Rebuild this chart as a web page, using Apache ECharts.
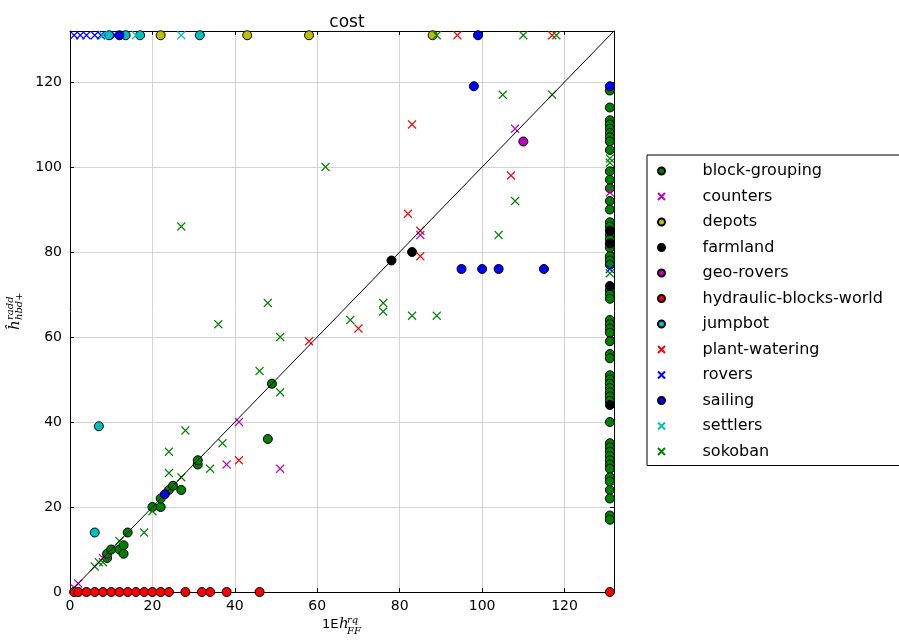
<!DOCTYPE html>
<html>
<head>
<meta charset="utf-8">
<script src="https://cdn.jsdelivr.net/npm/echarts@6/dist/echarts.min.js"></script>
<style>html,body{margin:0;padding:0;background:#fff;}#c{width:899px;height:642px;}</style>
</head>
<body>
<div id="c"></div>
<script>
// ---- data ----
const seriesNames = ['block-grouping','counters','depots','farmland','geo-rovers','hydraulic-blocks-world','jumpbot','plant-watering','rovers','sailing','settlers','sokoban'];
const xTicks = [0,20,40,60,80,100,120];
const yTicks = [0,20,40,60,80,100,120];
const axisMax = 132;
const diagonal = [[0,0],[132,132]];

const blockGrouping = [[9,8],[9,9],[10,10],[12,10],[13,9],[13,11],[14,14],[20,20],[22,20],[22,22],[24,24],[25,25],[27,24],[31,30],[31,31],[48,36],[49,49],
  [131,118],[131,114],[131,111],[131,110],[131,109],[131,108],[131,107],[131,106],[131,104],[131,99],[131,97],[131,95],[131,92],[131,90],[131,87],[131,86],[131,84],[131,83],[131,81],[131,79],[131,78],[131,77],[131,71],[131,70],[131,69],[131,64],[131,63],[131,62],[131,61],[131,59],[131,56],[131,55],[131,51],[131,50],[131,49],[131,48],[131,47],[131,46],[131,45],[131,40],[131,35],[131,34],[131,33],[131,32],[131,31],[131,30],[131,29],[131,27],[131,26],[131,24],[131,22],[131,18],[131,17]];
const counters = [[1,1],[2,2],[8,8],[38,30],[41,40],[51,29],[85,84],[108,109],[131,94]];
const depots = [[22,131],[43,131],[58,131],[88,131]];
const farmland = [[78,78],[83,80],[131,85],[131,82],[131,72],[131,44]];
const geoRovers = [[110,106]];
const hydraulic = [[1,0],[2,0],[4,0],[6,0],[8,0],[10,0],[12,0],[14,0],[16,0],[18,0],[20,0],[22,0],[24,0],[28,0],[32,0],[34,0],[38,0],[46,0],[131,0]];
const jumpbot = [[6,14],[7,39],[9.5,131],[13.5,131],[17,131],[31.5,131]];
const plantWatering = [[41,31],[58,59],[70,62],[82,89],[83,110],[85,85],[85,79],[107,98],[94,131],[117,131]];
const rovers = [[1,131],[2.5,131],[4,131],[6,131],[7.5,131],[11,131],[131,76]];
const sailing = [[23,23],[95,76],[100,76],[104,76],[115,76],[98,119],[12,131],[99,131],[131,119]];
const settlers = [[8,131],[16,131],[27,131]];
const sokoban = [[6,6],[7,7],[8,7],[12,12],[18,14],[20,19],[24,28],[24,33],[27,27],[28,38],[34,29],[37,35],[27,86],[36,63],[46,52],[48,68],[51,60],[51,47],[62,100],[68,64],[76,66],[76,68],[83,65],[89,65],[104,84],[108,92],[105,117],[117,117],[89,131],[110,131],[118,131],[131,101],[131,102],[131,75]];

const seriesData = [blockGrouping,counters,depots,farmland,geoRovers,hydraulic,jumpbot,plantWatering,rovers,sailing,settlers,sokoban];
const seriesColors = ['#008000','#bf00bf','#bfbf00','#000000','#bf00bf','#ff0000','#00bfbf','#ff0000','#0000ff','#0000ff','#00bfbf','#008000'];
const seriesMarker = ['o','x','o','o','o','o','o','x','x','o','x','x'];

// ---- chart ----
const CROSS = 'path://M0,0L10,10M10,0L0,10';
const chart = echarts.init(document.getElementById('c'));
const font = 'DejaVu Sans';

const series = seriesNames.map((n,i)=>{
  const isX = seriesMarker[i]==='x';
  return {
    name:n, type:'scatter', data:seriesData[i],
    symbol: isX ? CROSS : 'circle',
    symbolSize: isX ? 8 : 9,
    itemStyle: isX ? {color:seriesColors[i], borderColor:seriesColors[i], borderWidth:1.1, opacity:1}
                   : {color:seriesColors[i], borderColor:'#000', borderWidth:1, opacity:1},
    emphasis:{disabled:true},
    clip:false
  };
});
series.push({
  type:'line', data:diagonal, symbol:'none', silent:true,
  lineStyle:{color:'#000', width:1}, z:5
});

const axisCommon = {
  type:'value', min:0, max:axisMax, interval:20,
  axisLine:{show:true, onZero:false, lineStyle:{color:'#000', width:1}},
  axisTick:{show:true, inside:true, length:4, lineStyle:{color:'#000'}},
  splitLine:{show:true, lineStyle:{color:'#d3d3d3', width:1}},
  axisLabel:{color:'#000', fontFamily:font, fontSize:14, showMaxLabel:false}
};

chart.setOption({
  animation:false,
  backgroundColor:'#fff',
  title:{text:'cost', left:342, textAlign:'center', top:9, textStyle:{fontFamily:font, fontSize:17, fontWeight:'normal', color:'#000'}},
  grid:{left:70, right:285, top:31, bottom:50, containLabel:false},
  xAxis:[
    Object.assign({}, axisCommon, {position:'bottom', axisLabel:Object.assign({}, axisCommon.axisLabel, {margin:7})}),
    Object.assign({}, axisCommon, {position:'top', axisLabel:{show:false}, splitLine:{show:false}})
  ],
  yAxis:[
    Object.assign({}, axisCommon, {position:'left', axisLabel:Object.assign({}, axisCommon.axisLabel, {margin:8})}),
    Object.assign({}, axisCommon, {position:'right', axisLabel:{show:false}, splitLine:{show:false}})
  ],
  legend:{
    orient:'vertical', left:647, top:155,
    padding:[7,40,5,10],
    borderColor:'#000', borderWidth:1,
    itemWidth:30, itemHeight:7, itemGap:7.5,
    selectedMode:false,
    formatter: name => '{t|' + name + '}',
    textStyle:{fontFamily:font, fontSize:16, color:'#000', lineHeight:18,
      rich:{t:{fontFamily:font, fontSize:16, color:'#000', lineHeight:18, padding:[0,0,0,21]}}},
    data: seriesNames.map((n,i)=>({name:n, icon: seriesMarker[i]==='x' ? CROSS : 'circle'}))
  },
  series: series,
  graphic:[
    // x axis name: 1E h^{rq}_{FF}
    {type:'text', left:322, top:618, style:{text:'1E', font:'13px "DejaVu Sans"', fill:'#000'}},
    {type:'text', left:339, top:617, style:{text:'h', font:'italic 15px "DejaVu Serif"', fill:'#000'}},
    {type:'text', left:347, top:615, style:{text:'rq', font:'italic 10px "DejaVu Serif"', fill:'#000'}},
    {type:'text', left:347, top:626, style:{text:'FF', font:'italic 10px "DejaVu Serif"', fill:'#000'}},
    // y axis name: ĥ^{radd}_{hbd+} rotated
    {type:'group', x:15, y:330, rotation:Math.PI/2, children:[
      {type:'text', x:0, y:0, style:{text:'ĥ', font:'italic 15px "DejaVu Serif"', fill:'#000', textAlign:'left', textVerticalAlign:'middle'}},
      {type:'text', x:10, y:-5, style:{text:'radd', font:'italic 10px "DejaVu Serif"', fill:'#000', textAlign:'left', textVerticalAlign:'middle'}},
      {type:'text', x:10, y:4, style:{text:'hbd+', font:'italic 10px "DejaVu Serif"', fill:'#000', textAlign:'left', textVerticalAlign:'middle'}}
    ]}
  ]
});
</script>
</body>
</html>
